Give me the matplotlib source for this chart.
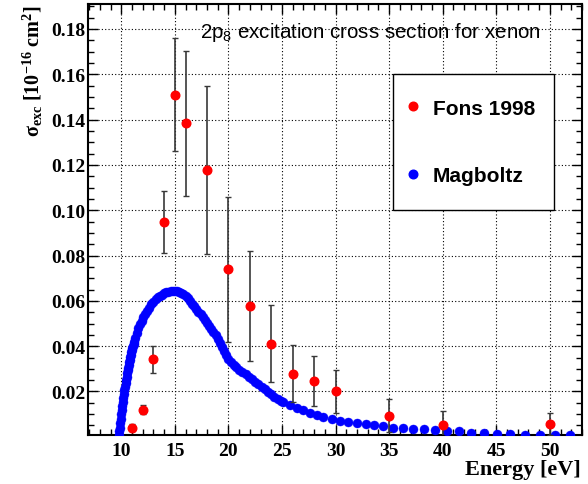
import matplotlib
matplotlib.use("Agg")
import matplotlib.pyplot as plt
from matplotlib.ticker import MultipleLocator, FixedLocator
from matplotlib.lines import Line2D
from matplotlib.patches import Rectangle

plt.rcParams['mathtext.fontset'] = 'custom'
plt.rcParams['mathtext.rm'] = 'Liberation Serif:bold'
plt.rcParams['mathtext.bf'] = 'Liberation Serif:bold'
plt.rcParams['mathtext.it'] = 'Liberation Serif:bold:italic'
plt.rcParams['mathtext.sf'] = 'Liberation Sans'

# Fons 1998 measurements (energy in eV, cross section in 1e-16 cm^2)
fons_e = [11, 12, 13, 14, 15, 16, 18, 20, 22, 24, 26, 28, 30, 35, 40, 50]
fons_sig = [0.0041, 0.0119, 0.0342, 0.0948, 0.151, 0.1384, 0.1177, 0.0739,
            0.0578, 0.041, 0.0278, 0.0247, 0.020, 0.0093, 0.0052, 0.0056]
fons_err = [0.0015, 0.002, 0.006, 0.0137, 0.025, 0.032, 0.037, 0.032,
            0.0244, 0.017, 0.0126, 0.011, 0.0096, 0.0073, 0.0063, 0.005]

# Magboltz cross section
mag_e = [9.75, 9.8, 9.85, 9.9, 9.95, 10.0, 10.05, 10.1, 10.15, 10.2,
         10.25, 10.3, 10.35, 10.4, 10.45, 10.5, 10.55, 10.6, 10.65, 10.7,
         10.75, 10.8, 10.85, 10.9, 10.95, 11.0, 11.05, 11.1, 11.15, 11.2,
         11.3, 11.45, 11.6, 11.75, 11.9,
         12.05, 12.2, 12.4, 12.6, 12.8, 13.0, 13.2, 13.4, 13.6, 13.8,
         14.0, 14.2, 14.4, 14.6, 14.8, 15.0, 15.2, 15.4, 15.6, 15.8,
         16.0, 16.2, 16.4, 16.6, 16.8, 17.0, 17.2, 17.4, 17.6, 17.8,
         18.0, 18.2, 18.4, 18.6, 18.8, 19.0, 19.2, 19.4, 19.6, 19.8,
         20.0, 20.25, 20.5, 20.75, 21.0, 21.3, 21.6, 21.9, 22.2, 22.5,
         22.8, 23.1, 23.4, 23.7, 24.0, 24.3, 24.6, 24.9, 25.12, 25.75,
         26.37, 26.93, 27.62, 28.24, 28.86, 29.64, 30.42, 31.2, 31.98, 32.82,
         33.63, 34.47, 35.4, 36.28, 37.27, 38.3, 39.3, 40.39, 41.48, 42.64,
         43.88, 45.07, 46.31, 47.71, 49.05, 50.51, 51.92]
mag_sig = [0.0008, 0.0024, 0.004, 0.006, 0.008, 0.010, 0.012, 0.0138, 0.0155, 0.0173,
           0.019, 0.0206, 0.0222, 0.0237, 0.0252, 0.0266, 0.028, 0.0293, 0.0305, 0.0318,
           0.033, 0.0341, 0.0352, 0.0363, 0.0373, 0.0383, 0.0392, 0.0401, 0.041, 0.0418,
           0.0435, 0.0458, 0.0478, 0.0496, 0.0512,
           0.0527, 0.054, 0.0556, 0.057, 0.0584, 0.0596, 0.0606, 0.0615, 0.0622, 0.0628,
           0.0633, 0.0637, 0.064, 0.0642, 0.0643, 0.0643, 0.0642, 0.064, 0.0636, 0.063,
           0.0622, 0.0612, 0.060, 0.0588, 0.0576, 0.0564, 0.0552, 0.054, 0.0528, 0.0516,
           0.0503, 0.049, 0.0477, 0.0463, 0.0448, 0.0433, 0.0416, 0.0398, 0.038, 0.0362,
           0.0345, 0.0328, 0.0316, 0.0306, 0.0297, 0.0286, 0.0275, 0.0264, 0.0253, 0.0242,
           0.0231, 0.022, 0.0209, 0.0198, 0.0187, 0.0177, 0.0167, 0.0158, 0.0152, 0.014,
           0.0128, 0.0118, 0.0107, 0.0097, 0.0089, 0.0078, 0.007, 0.0064, 0.0059, 0.0055,
           0.0052, 0.0047, 0.0041, 0.0037, 0.0034, 0.0033, 0.003, 0.0025, 0.0024, 0.0019,
           0.0018, 0.0014, 0.0014, 0.0009, 0.001, 0.001, 0.0006]

fig = plt.figure(figsize=(5.88, 4.85), dpi=100)
ax = fig.add_axes([88/588, 1 - 436/485, 494/588, 431/485])

ax.plot(mag_e, mag_sig, 'o', color='#0000ff', markersize=6.5,
        markeredgewidth=0.3, markeredgecolor='#0000ff', zorder=3)
ax.errorbar(fons_e, fons_sig, yerr=fons_err, fmt='o', color='#ff0000',
            markersize=6.2, markeredgecolor='#ff0000', ecolor='#383838',
            elinewidth=1.2, capsize=2.4, capthick=1.0, zorder=4)

ax.set_xlim(6.9, 53.0)
ax.set_ylim(0.0008, 0.191)

ax.xaxis.set_minor_locator(MultipleLocator(1))
ax.yaxis.set_major_locator(FixedLocator([0.02, 0.04, 0.06, 0.08, 0.10, 0.12, 0.14, 0.16, 0.18]))
ax.yaxis.set_minor_locator(MultipleLocator(0.005))
ax.set_xticks([10, 15, 20, 25, 30, 35, 40, 45, 50])
ax.set_xticklabels(['10', '15', '20', '25', '30', '35', '40', '45', '50'])
ax.set_yticklabels(['0.02', '0.04', '0.06', '0.08', '0.10', '0.12', '0.14', '0.16', '0.18'])

ax.tick_params(which='both', direction='in', top=True, right=True, width=1.0,
               color='black')
ax.tick_params(which='major', length=7.5)
ax.tick_params(which='minor', length=4.5)
ax.tick_params(axis='x', pad=5)
ax.tick_params(axis='y', pad=2)
for lab in ax.get_xticklabels() + ax.get_yticklabels():
    lab.set_fontfamily('Liberation Serif')
    lab.set_fontweight('bold')
    lab.set_fontsize(14)

for sp in ax.spines.values():
    sp.set_linewidth(1.5)

ax.grid(True, which='major', linestyle=(0, (1, 2)), color='black', linewidth=0.8)
ax.set_axisbelow(True)

fig.text(200/588, 1 - 33/485, '2p$_{\\mathsf{8}}$ excitation cross section for xenon',
         fontfamily='Liberation Sans', fontsize=14.8, ha='left', va='center')

ax.set_ylabel('σ$_{\\mathrm{exc}}$ [10$^{\\mathrm{-16}}$ cm$^{\\mathrm{2}}$]',
              fontfamily='Liberation Serif', fontweight='bold', fontsize=14.5)
ax.yaxis.set_label_coords(-0.087, 1.0)
ax.yaxis.label.set_ha('right')

fig.text(581/588, 1 - 470/485, 'Energy [eV]', fontfamily='Liberation Serif',
         fontweight='bold', fontsize=16, ha='right', va='center')

# legend: plain box plus frameless entries
box_l, box_r, box_t, box_b = 393, 554, 75, 211
def ax_x(px):
    return (px - 88) / 494
def ax_y(py):
    return (436 - py) / 431
ax.add_patch(Rectangle((ax_x(box_l), ax_y(box_b)), ax_x(box_r) - ax_x(box_l),
                       ax_y(box_t) - ax_y(box_b), transform=ax.transAxes,
                       facecolor='white', edgecolor='black', linewidth=1.0,
                       zorder=5))
handles = [Line2D([], [], marker='o', linestyle='none', color='#ff0000',
                  markersize=6.2),
           Line2D([], [], marker='o', linestyle='none', color='#0000ff',
                  markersize=6.2)]
leg = ax.legend(handles, ['Fons 1998', 'Magboltz'], loc='center left',
                bbox_to_anchor=(ax_x(box_l + 10), ax_y((box_t + box_b) / 2)),
                frameon=False, handlelength=0.96, handletextpad=0.48,
                labelspacing=2.35, borderpad=0, borderaxespad=0,
                prop={'family': 'Liberation Sans', 'weight': 'bold', 'size': 15})
leg.set_zorder(6)

fig.savefig('out.png', dpi=100)
